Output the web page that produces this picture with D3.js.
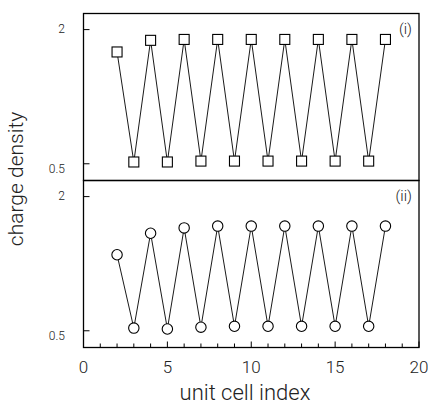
<!DOCTYPE html>
<html>
<head>
<meta charset="utf-8">
<script src="https://cdn.jsdelivr.net/npm/d3@7"></script>
<style>
  html, body { margin: 0; padding: 0; background: #fff; }
  svg text { font-family: Roboto, "Liberation Sans", Arial, sans-serif; font-weight: 300; fill: #222; }
</style>
</head>
<body>
<div id="chart"></div>
<script>
// data
const cellIndex = [2, 3, 4, 5, 6, 7, 8, 9, 10, 11, 12, 13, 14, 15, 16, 17, 18];
const densityI  = [1.75, 0.52, 1.88, 0.52, 1.89, 0.53, 1.89, 0.53, 1.89, 0.53, 1.89, 0.53, 1.89, 0.53, 1.89, 0.53, 1.89];
const densityII = [1.35, 0.53, 1.59, 0.52, 1.65, 0.54, 1.67, 0.55, 1.67, 0.55, 1.67, 0.55, 1.67, 0.55, 1.67, 0.55, 1.67];
const xTickValues = [0, 5, 10, 15, 20];
const yTickValues = [0.5, 2];
const yTickLabels = ['0.5', '2'];
const panelLabels = ['(i)', '(ii)'];

const width = 428, height = 404;
const plotLeft = 83.5, plotRight = 419, plotTop = 13.5, plotBottom = 347.5;
const panelH = (plotBottom - plotTop) / 2;

const svg = d3.select('#chart').append('svg')
    .attr('width', width)
    .attr('height', height);

const x = d3.scaleLinear().domain([0, 20]).range([plotLeft, plotRight]);

const panels = [
    { data: densityI, marker: 'square', y0: plotTop },
    { data: densityII, marker: 'circle', y0: plotTop + panelH }
];

panels.forEach((p, i) => {
    const y = d3.scaleLinear()
        .domain([0.313, 2.18])
        .range([p.y0 + panelH, p.y0]);

    const g = svg.append('g');

    // left ticks pointing inward
    g.selectAll('.ytick')
        .data(yTickValues)
        .enter()
        .append('line')
        .attr('x1', plotLeft)
        .attr('x2', plotLeft + 6)
        .attr('y1', d => y(d))
        .attr('y2', d => y(d))
        .attr('stroke', '#000')
        .attr('stroke-width', 1);

    g.selectAll('.ylabel')
        .data(yTickValues)
        .enter()
        .append('text')
        .attr('x', 65)
        .attr('y', d => y(d) + (d === 2 ? 3 : 9))
        .attr('text-anchor', 'end')
        .attr('font-size', 12)
        .text((d, k) => yTickLabels[k]);

    // zigzag line
    const line = d3.line()
        .x((d, k) => x(cellIndex[k]))
        .y(d => y(d));

    g.append('path')
        .datum(p.data)
        .attr('d', line)
        .attr('fill', 'none')
        .attr('stroke', '#000')
        .attr('stroke-width', 0.9);

    if (p.marker === 'square') {
        g.selectAll('.pt')
            .data(p.data)
            .enter()
            .append('rect')
            .attr('x', (d, k) => x(cellIndex[k]) - 5)
            .attr('y', d => y(d) - 5)
            .attr('width', 10)
            .attr('height', 10)
            .attr('fill', '#fff')
            .attr('stroke', '#000')
            .attr('stroke-width', 1.1);
    } else {
        g.selectAll('.pt')
            .data(p.data)
            .enter()
            .append('circle')
            .attr('cx', (d, k) => x(cellIndex[k]))
            .attr('cy', d => y(d))
            .attr('r', 5.2)
            .attr('fill', '#fff')
            .attr('stroke', '#000')
            .attr('stroke-width', 1.1);
    }

    g.append('text')
        .attr('x', 412)
        .attr('y', p.y0 + 20)
        .attr('text-anchor', 'end')
        .attr('font-size', 15)
        .text(panelLabels[i]);

    // frame
    g.append('rect')
        .attr('x', plotLeft)
        .attr('y', p.y0)
        .attr('width', plotRight - plotLeft)
        .attr('height', panelH)
        .attr('fill', 'none')
        .attr('stroke', '#000')
        .attr('stroke-width', 1.3);
});

// bottom x ticks, pointing up
const minorTicks = d3.range(0, 21);
svg.selectAll('.xtick')
    .data(minorTicks)
    .enter()
    .append('line')
    .attr('x1', d => x(d))
    .attr('x2', d => x(d))
    .attr('y1', plotBottom)
    .attr('y2', d => plotBottom - (d % 5 === 0 ? 6 : 4))
    .attr('stroke', '#000')
    .attr('stroke-width', 1);

svg.selectAll('.xlabel')
    .data(xTickValues)
    .enter()
    .append('text')
    .attr('x', d => x(d))
    .attr('y', 373)
    .attr('text-anchor', 'middle')
    .attr('font-size', 17)
    .text(d => d);

svg.append('text')
    .attr('x', 245)
    .attr('y', 400)
    .attr('text-anchor', 'middle')
    .attr('font-size', 22)
    .text('unit cell index');

svg.append('text')
    .attr('transform', 'translate(22.5,179) rotate(-90)')
    .attr('text-anchor', 'middle')
    .attr('font-size', 21)
    .text('charge density');
</script>
</body>
</html>
